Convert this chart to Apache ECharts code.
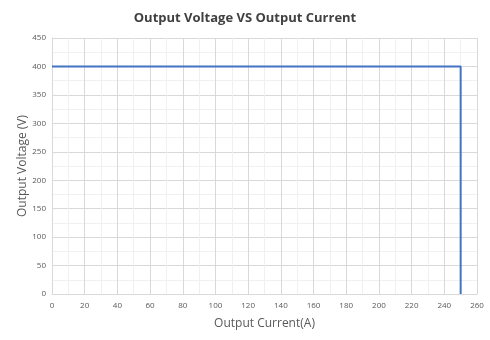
<!DOCTYPE html>
<html>
<head>
<meta charset="utf-8">
<script src="https://cdn.jsdelivr.net/npm/echarts@6/dist/echarts.min.js"></script>
<style>html,body{margin:0;padding:0;background:#fff}#c{width:490px;height:340px}</style>
</head>
<body>
<div id="c"></div>
<script>
const titleText = "Output Voltage VS Output Current";
const xName = "Output Current(A)";
const yName = "Output Voltage (V)";
const currents = [0, 250, 250];
const voltages = [400, 400, 0];

const chart = echarts.init(document.getElementById('c'), null, {renderer: 'canvas'});
const font = "'Open Sans', 'Liberation Sans', sans-serif";
chart.setOption({
  animation: false,
  backgroundColor: '#fff',
  title: {
    text: titleText, left: 'center', top: 7,
    textStyle: {fontFamily: font, fontSize: 13, fontWeight: 'bold', color: '#404040'}
  },
  grid: {left: 52, right: 13, top: 38, bottom: 46, containLabel: false},
  xAxis: {
    type: 'value', min: 0, max: 260, interval: 20,
    name: xName, nameLocation: 'middle', nameGap: 24, nameMoveOverlap: false,
    nameTextStyle: {fontFamily: font, fontSize: 12, color: '#595959'},
    axisLine: {show: true, lineStyle: {color: '#d9d9d9'}},
    axisTick: {show: false},
    axisLabel: {fontFamily: font, fontSize: 8, color: '#595959', margin: 8},
    splitLine: {show: true, lineStyle: {color: '#d9d9d9', width: 1}},
    minorTick: {show: false, splitNumber: 2},
    minorSplitLine: {show: true, lineStyle: {color: '#f0f0f0', width: 1}}
  },
  yAxis: {
    type: 'value', min: 0, max: 450, interval: 50,
    name: yName, nameLocation: 'middle', nameGap: 23, nameRotate: 90, nameMoveOverlap: false,
    nameTextStyle: {fontFamily: font, fontSize: 12, color: '#595959'},
    axisLine: {show: true, lineStyle: {color: '#d9d9d9'}},
    axisTick: {show: false},
    axisLabel: {fontFamily: font, fontSize: 8, color: '#595959', margin: 6},
    splitLine: {show: true, lineStyle: {color: '#d9d9d9', width: 1}},
    minorTick: {show: false, splitNumber: 2},
    minorSplitLine: {show: true, lineStyle: {color: '#f0f0f0', width: 1}}
  },
  series: [{
    type: 'line',
    data: currents.map((c, i) => [c, voltages[i]]),
    showSymbol: false,
    lineStyle: {color: '#4472C4', width: 2},
    itemStyle: {color: '#4472C4'}
  }]
});
</script>
</body>
</html>
